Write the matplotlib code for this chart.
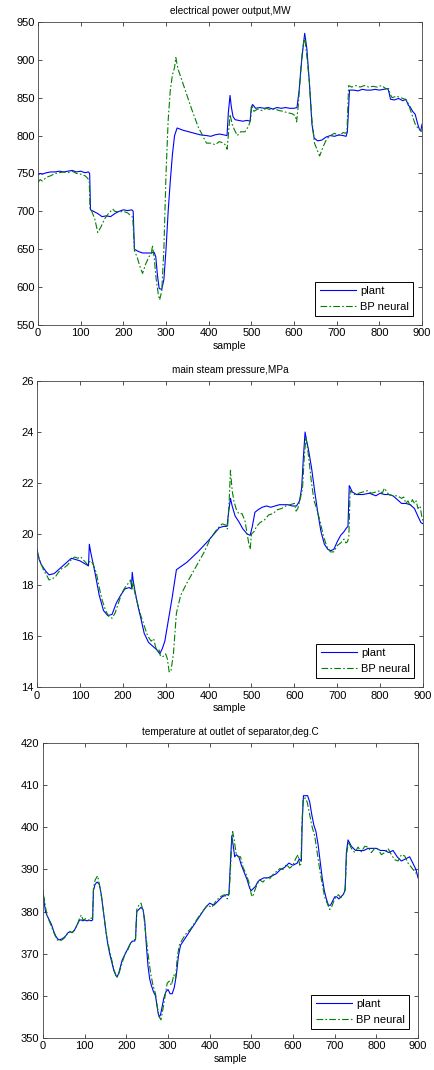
import numpy as np
import matplotlib
matplotlib.use("Agg")
import matplotlib.pyplot as plt

plt.rcParams['font.family'] = ['Liberation Sans', 'DejaVu Sans']

# --- electrical power output (MW) ---
power_x_plant = [0, 5, 10, 20, 30, 40, 50, 60, 70, 80,
                 90, 100, 110, 118, 121, 123, 130, 140, 150, 160,
                 170, 180, 190, 200, 210, 220, 223, 226, 235, 245,
                 255, 265, 272, 276, 280, 284, 290, 295, 300, 305,
                 310, 315, 320, 326, 340, 360, 380, 395, 405, 415,
                 425, 435, 443, 446, 450, 453, 457, 462, 470, 480,
                 490, 497, 500, 503, 510, 520, 530, 540, 550, 560,
                 570, 580, 590, 600, 607, 612, 618, 625, 630, 636,
                 642, 647, 655, 665, 675, 685, 695, 705, 715, 722,
                 725, 730, 740, 750, 760, 770, 780, 790, 800, 810,
                 820, 823, 826, 835, 845, 855, 862, 868, 872, 878,
                 884, 890, 894, 897, 900]
power_plant = [748, 750, 749, 751, 752, 752, 753, 752, 753, 754,
               752, 753, 751, 752, 750, 702, 700, 697, 693, 694,
               693, 697, 700, 702, 701, 702, 700, 650, 647, 645,
               645, 645, 646, 640, 615, 598, 597, 610, 650, 700,
               740, 775, 800, 810, 807, 804, 801, 800, 799, 801,
               802, 801, 800, 830, 853, 838, 825, 821, 820, 819,
               820, 819, 838, 841, 836, 837, 836, 837, 835, 837,
               836, 837, 836, 836, 837, 860, 900, 935, 915, 870,
               815, 797, 793, 794, 798, 800, 799, 801, 800, 799,
               805, 860, 860, 859, 861, 860, 860, 861, 860, 861,
               862, 856, 848, 847, 849, 846, 848, 840, 838, 832,
               828, 815, 808, 806, 815]
power_x_bp = [0, 5, 10, 20, 30, 40, 50, 60, 70, 80,
              90, 100, 110, 116, 120, 122, 126, 133, 140, 148,
              156, 165, 175, 180, 190, 200, 210, 218, 222, 226,
              232, 240, 245, 252, 260, 266, 268, 272, 277, 282,
              285, 290, 295, 300, 305, 310, 315, 320, 323, 328,
              345, 360, 375, 390, 395, 405, 415, 425, 435, 440,
              443, 446, 450, 455, 460, 467, 475, 485, 493, 498,
              501, 506, 515, 525, 535, 545, 555, 565, 575, 585,
              595, 603, 606, 610, 615, 620, 625, 630, 636, 642,
              648, 655, 660, 668, 676, 685, 695, 705, 715, 720,
              724, 728, 735, 745, 755, 765, 775, 785, 795, 805,
              815, 822, 825, 830, 840, 850, 860, 866, 872, 878,
              884, 890, 895, 900]
power_bp = [738, 742, 740, 745, 747, 750, 751, 752, 751, 753,
            750, 749, 747, 744, 740, 703, 700, 690, 672, 680,
            690, 697, 703, 700, 699, 700, 698, 694, 692, 648,
            640, 625, 618, 630, 640, 645, 655, 640, 610, 590,
            583, 595, 650, 750, 820, 860, 880, 890, 903, 888,
            860, 835, 812, 795, 790, 790, 788, 792, 790, 787,
            782, 800, 828, 815, 808, 800, 805, 805, 812, 820,
            840, 832, 835, 833, 836, 834, 835, 833, 832, 830,
            829, 826, 818, 840, 880, 915, 930, 905, 870, 820,
            790, 780, 773, 785, 795, 800, 803, 800, 804, 803,
            805, 866, 864, 866, 864, 866, 864, 865, 864, 866,
            862, 862, 855, 850, 852, 850, 848, 845, 835, 825,
            815, 810, 808, 805]

# --- main steam pressure (MPa) ---
press_x_plant = [0, 5, 10, 20, 28, 40, 50, 60, 70, 80,
                 90, 100, 110, 115, 120, 122, 125, 130, 135, 145,
                 155, 165, 175, 185, 195, 205, 215, 220, 222, 224, 228, 235, 242, 250,
                 260, 270, 280, 286, 292, 298, 305, 315, 325, 350,
                 375, 400, 415, 425, 435, 443, 447, 451, 455, 462,
                 470, 480, 490, 497, 502, 508, 515, 525, 535, 545,
                 555, 565, 575, 585, 595, 605, 612, 617, 621, 625,
                 628, 633, 640, 648, 655, 662, 670, 678, 685, 692,
                 700, 708, 716, 722, 725, 728, 735, 745, 760, 775,
                 790, 800, 810, 820, 830, 840, 850, 860, 870, 880,
                 888, 895, 900]
press_plant = [19.4, 19.0, 18.8, 18.55, 18.4, 18.45, 18.6, 18.75, 18.9, 19.05,
               19.0, 18.95, 18.85, 18.8, 18.75, 19.6, 19.3, 18.9, 18.5, 17.6,
               17.0, 16.8, 16.85, 17.3, 17.6, 17.85, 17.9, 17.85, 18.5, 18.2, 17.8, 17.2, 16.7, 16.1,
               15.75, 15.6, 15.45, 15.3, 15.5, 15.8, 16.5, 17.5, 18.6, 18.9,
               19.3, 19.75, 20.05, 20.25, 20.3, 20.3, 20.9, 21.4, 21.1, 20.7,
               20.5, 20.2, 20.0, 19.95, 20.3, 20.85, 20.95, 21.05, 21.1, 21.05,
               21.1, 21.15, 21.15, 21.15, 21.1, 21.1, 21.3, 21.8, 23.0, 24.0,
               23.7, 23.3, 22.6, 21.6, 20.8, 20.1, 19.6, 19.4, 19.35, 19.4,
               19.7, 19.95, 20.1, 20.25, 20.3, 21.9, 21.65, 21.55, 21.55, 21.6,
               21.5, 21.6, 21.55, 21.55, 21.5, 21.35, 21.2, 21.2, 21.15, 21.0,
               20.7, 20.45, 20.4]
press_x_bp = [0, 8, 15, 22, 28, 35, 42, 50, 58, 65,
              72, 80, 88, 95, 102, 110, 118, 124, 130, 138,
              145, 152, 160, 168, 175, 182, 190, 198, 205, 212,
              218, 221, 224, 228, 234, 242, 250, 258, 266, 272,
              276, 280, 284, 288, 294, 300, 304, 308, 312, 318,
              325, 335, 350, 370, 390, 405, 420, 432, 440, 444,
              448, 451, 455, 459, 464, 470, 478, 485, 490, 494,
              497, 500, 506, 512, 520, 530, 540, 550, 560, 570,
              580, 590, 600, 604, 608, 614, 619, 623, 627, 632,
              640, 646, 652, 660, 668, 676, 684, 692, 700, 708,
              716, 720, 724, 727, 730, 740, 750, 760, 770, 780,
              790, 800, 805, 810, 820, 830, 840, 850, 855, 860,
              865, 870, 875, 880, 884, 888, 893, 897, 900]
press_bp = [19.3, 18.9, 18.6, 18.4, 18.2, 18.25, 18.3, 18.5, 18.65, 18.7,
            18.8, 19.0, 19.1, 19.05, 19.1, 18.95, 18.8, 18.95, 18.85, 18.5,
            17.9, 17.4, 17.0, 16.75, 16.7, 16.9, 17.3, 17.7, 17.9, 18.05,
            18.2, 17.8, 18.1, 17.7, 17.3, 16.8, 16.4, 16.0, 15.8, 15.9,
            15.6, 15.4, 15.5, 15.2, 15.2, 15.3, 15.1, 14.6, 14.6, 15.3,
            16.9, 17.6, 18.1, 18.7, 19.3, 19.85, 20.2, 20.4, 20.35, 20.2,
            21.3, 22.5, 21.7, 21.3, 21.0, 20.8, 20.8, 20.5, 20.0, 19.6,
            19.4, 20.0, 20.1, 20.3, 20.45, 20.55, 20.75, 20.8, 20.95, 21.0,
            21.1, 21.15, 21.2, 20.9, 21.0, 21.4, 21.8, 23.0, 23.8, 23.2,
            22.0, 21.3, 21.0, 20.5, 19.9, 19.5, 19.3, 19.3, 19.55, 19.65,
            19.8, 19.65, 19.7, 19.9, 21.7, 21.55, 21.6, 21.65, 21.7, 21.6,
            21.65, 21.7, 21.6, 21.8, 21.55, 21.5, 21.5, 21.4, 21.45, 21.2,
            21.3, 21.1, 21.35, 21.2, 21.3, 21.0, 21.1, 20.7, 20.5]

# --- temperature at outlet of separator (deg C) ---
temp_x_plant = [0, 3, 6, 10, 15, 20, 25, 30, 35, 40,
                45, 50, 55, 60, 65, 70, 75, 80, 85, 88,
                92, 96, 100, 105, 110, 115, 119, 121, 125, 130,
                135, 140, 145, 150, 155, 160, 165, 170, 175, 178,
                182, 186, 190, 195, 200, 205, 210, 215, 220, 222,
                225, 230, 235, 240, 244, 248, 252, 256, 260, 265,
                270, 273, 276, 279, 282, 286, 290, 295, 300, 305,
                310, 315, 320, 325, 330, 340, 350, 360, 370, 380,
                390, 400, 410, 420, 430, 440, 446, 450, 453, 456,
                460, 464, 470, 476, 482, 490, 496, 500, 505, 510,
                515, 520, 530, 540, 550, 560, 570, 580, 590, 600,
                610, 615, 620, 622, 625, 630, 635, 640, 645, 650,
                655, 660, 665, 670, 675, 680, 685, 690, 695, 700,
                705, 710, 715, 720, 725, 728, 732, 740, 750, 760,
                770, 780, 790, 800, 810, 820, 830, 840, 850, 860,
                870, 880, 890, 895, 900]
temp_plant = [385, 382, 380, 379, 378, 377, 375.5, 374.3, 373.5, 373.3,
              373.5, 373.8, 374.3, 375, 375.2, 375, 375.5, 376.5, 377.5, 378,
              378, 377.8, 378, 377.8, 378, 377.8, 378, 385, 386.5, 387,
              386.5, 384, 380, 376, 372.5, 370, 368, 366, 364.8, 364.5,
              365.5, 367, 368.5, 369.5, 370.5, 371.5, 372.5, 373, 373, 373.5,
              380, 380.5, 381, 380.5, 378, 372, 367, 364, 362.5, 361,
              360, 358, 356, 355, 355.5, 357.5, 359.5, 361, 361.5, 360.5,
              360.5, 362, 365, 369.5, 372, 373.5, 375, 376.5, 378, 379.5,
              381, 382, 381.5, 382.5, 383.5, 384, 384, 392, 398, 396,
              393, 393.5, 393, 391, 389.5, 387.5, 385.5, 385, 385.5, 386,
              387, 387.5, 388, 388, 388.5, 389, 390, 390.5, 391.5, 391,
              391.5, 392.5, 392, 401, 407.5, 407.5, 407.5, 406, 403, 400.5,
              399, 396, 392, 388, 385, 383, 381.5, 381.5, 382.5, 383.5,
              383.5, 383, 383.5, 384, 385, 394, 397, 395.5, 394.5, 394.5,
              394.5, 395, 395, 395, 394.5, 394.5, 394, 394.5, 393, 392,
              392.5, 393, 391, 390, 388]
temp_x_bp = [0, 3, 6, 10, 16, 22, 28, 34, 40, 46,
             52, 58, 64, 70, 76, 82, 88, 92, 96, 102,
             108, 114, 119, 121, 125, 131, 136, 141, 147, 153,
             159, 165, 171, 177, 181, 186, 192, 198, 204, 210,
             216, 222, 225, 230, 235, 241, 246, 252, 258, 264,
             270, 275, 279, 283, 288, 293, 298, 303, 308, 314,
             318, 322, 327, 335, 345, 355, 365, 375, 385, 395,
             405, 415, 425, 435, 442, 447, 451, 455, 459, 463,
             468, 474, 480, 487, 494, 500, 503, 508, 514, 520,
             528, 536, 544, 552, 560, 568, 576, 584, 592, 600,
             606, 612, 616, 619, 621, 624, 629, 634, 640, 646,
             652, 658, 664, 670, 676, 682, 688, 693, 698, 703,
             709, 715, 721, 725, 729, 733, 740, 748, 756, 764,
             772, 780, 788, 796, 804, 812, 820, 828, 836, 844,
             852, 860, 868, 876, 884, 892, 900]
temp_bp = [384, 383, 381, 379, 377.5, 376, 374.5, 373.3, 373, 373.3,
           373.8, 374.7, 375.3, 375, 375.8, 376.8, 378.5, 379.2, 378, 378.3,
           377.8, 378.4, 378.5, 385.5, 387.5, 388.5, 386, 383, 378.5, 374,
           371, 368.5, 366, 364.3, 365, 366.5, 368.5, 370.3, 371, 372.5,
           373.2, 373.5, 380.5, 381.5, 382, 380, 375, 370, 365.5, 362.5,
           360.5, 357, 355, 354.3, 357, 360, 363, 363.5, 362.5, 365,
           364, 369, 372, 373.5, 375, 376, 377.5, 379, 380.3, 381.5,
           381, 382.5, 383.5, 384, 383, 384.5, 392.5, 399, 397, 394,
           393, 393, 390.5, 389, 387, 384, 383.5, 385, 386.5, 387.5,
           387, 388, 387.8, 388.8, 389.5, 390.2, 390, 391.2, 390.3, 391,
           392.5, 393.5, 391, 391.3, 400, 406.5, 407, 406, 403, 400,
           398, 394, 390, 386.5, 383.5, 382, 380.5, 381.2, 382.5, 383.5,
           384, 383.3, 384, 385.5, 394, 396.5, 395, 394, 395.3, 394.2,
           395.5, 395.3, 394, 395, 394.8, 393.5, 394, 395, 393.5, 392.3,
           392, 393.5, 393.2, 391.5, 390.5, 389.5, 388.5]

titles = ['electrical power output,MW',
          'main steam pressure,MPa',
          'temperature at outlet of separator,deg.C']
ylims = [(550, 950), (14, 26), (350, 420)]
yticks = [np.arange(550, 951, 50), np.arange(14, 27, 2), np.arange(350, 421, 10)]

series = [(power_x_plant, power_plant, power_x_bp, power_bp),
          (press_x_plant, press_plant, press_x_bp, press_bp),
          (temp_x_plant, temp_plant, temp_x_bp, temp_bp)]

# axes boxes in figure fractions [left, bottom, width, height]
boxes = [[0.0874, 0.6963, 0.8828, 0.2832],
         [0.0851, 0.3579, 0.8874, 0.2860],
         [0.0989, 0.0299, 0.8621, 0.2757]]

fig = plt.figure(figsize=(4.35, 10.7), dpi=100)

for box, (xp, yp, xb, yb), title, ylim, yt in zip(boxes, series, titles, ylims, yticks):
    ax = fig.add_axes(box)
    ax.plot(xp, yp, color='#0000ff', lw=0.8, label='plant')
    ax.plot(xb, yb, color='#008000', lw=0.8, linestyle=(0, (6, 2, 1.5, 2)), label='BP neural')
    ax.set_xlim(0, 900)
    ax.set_ylim(*ylim)
    ax.set_xticks(np.arange(0, 901, 100))
    ax.set_yticks(yt)
    ax.tick_params(direction='in', top=True, right=True, length=3, width=0.6,
                   labelsize=8, pad=2.5, colors='#333333', labelcolor='black')
    for sp in ax.spines.values():
        sp.set_linewidth(0.6)
        sp.set_color('#444444')
    ax.set_title(title, fontsize=7.2, pad=6)
    ax.set_xlabel('sample', fontsize=7.5, labelpad=2)
    leg = ax.legend(loc='lower right', fontsize=8, handlelength=3.3,
                    fancybox=False, edgecolor='black', framealpha=1,
                    borderaxespad=0.8, borderpad=0.4, labelspacing=0.5,
                    handletextpad=0.3)
    leg.get_frame().set_linewidth(0.7)

fig.savefig('out.png', dpi=100)
